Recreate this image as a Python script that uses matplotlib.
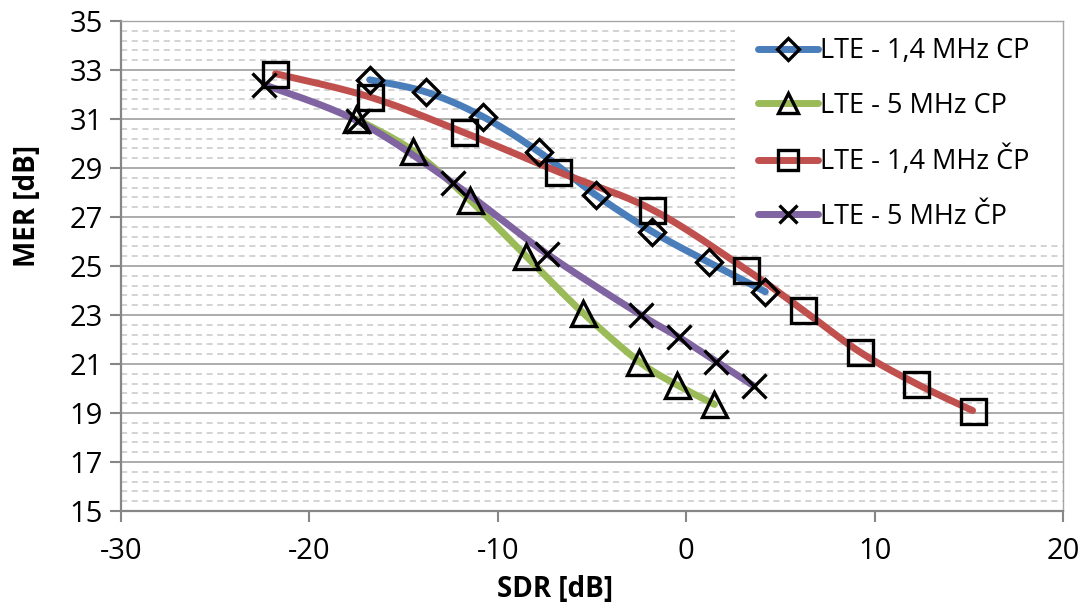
import numpy as np
import matplotlib
matplotlib.use("Agg")
import matplotlib.pyplot as plt
from matplotlib.lines import Line2D
from matplotlib.patches import Rectangle

# ---- data ----
x_14_cp = [-16.8, -13.8, -10.8, -7.8, -4.8, -1.8, 1.2, 4.2]
y_14_cp = [32.6, 32.1, 31.1, 29.65, 27.9, 26.4, 25.15, 23.95]

x_5_cp = [-17.5, -14.5, -11.5, -8.5, -5.5, -2.5, -0.5, 1.5]
y_5_cp = [31.0, 29.7, 27.7, 25.4, 23.1, 21.1, 20.15, 19.35]

x_14_ccp = [-21.8, -16.8, -11.8, -6.8, -1.8, 3.2, 6.2, 9.2, 12.2, 15.2]
y_14_ccp = [32.85, 31.9, 30.45, 28.85, 27.3, 24.85, 23.2, 21.5, 20.2, 19.1]

x_5_ccp = [-22.4, -17.4, -12.4, -7.4, -2.4, -0.4, 1.6, 3.6]
y_5_ccp = [32.4, 30.9, 28.4, 25.5, 23.0, 22.1, 21.1, 20.1]

labels = ["LTE - 1,4 MHz CP", "LTE - 5 MHz CP", "LTE - 1,4 MHz ČP", "LTE - 5 MHz ČP"]
colors = ["#4A7EBB", "#9BBB59", "#C0504D", "#8064A2"]
markers = ["D", "^", "s", "x"]
msizes = [13.5, 18, 18, 17]

x_ticks = [-30, -20, -10, 0, 10, 20]
y_ticks = [15, 17, 19, 21, 23, 25, 27, 29, 31, 33, 35]


def smooth(xs, ys, n=30):
    """Excel-style smoothed line (cubic Bezier with Catmull-Rom control points)."""
    P = np.column_stack([xs, ys]).astype(float)
    m = len(P)
    out = []
    for i in range(m - 1):
        p0 = P[i - 1] if i > 0 else P[i]
        p1 = P[i]
        p2 = P[i + 1]
        p3 = P[i + 2] if i + 2 < m else P[i + 1]
        c1 = p1 + (p2 - p0) / 6.0
        c2 = p2 - (p3 - p1) / 6.0
        t = np.linspace(0, 1, n)[:, None]
        seg = ((1 - t) ** 3) * p1 + 3 * ((1 - t) ** 2) * t * c1 + 3 * (1 - t) * t ** 2 * c2 + t ** 3 * p2
        out.append(seg if i == 0 else seg[1:])
    arr = np.vstack(out)
    return arr[:, 0], arr[:, 1]


plt.rcParams['font.family'] = ['Open Sans', 'DejaVu Sans']
plt.rcParams['axes.unicode_minus'] = False

FS_TICK = 21
FS_LEG = 19.5
FS_LAB = 20
LW = 5.0

fig = plt.figure(figsize=(10.88, 6.07), dpi=100)
ax = fig.add_axes([121 / 1088, 1 - 511 / 607, (1063 - 121) / 1088, (511 - 21) / 607])

series = [(x_14_cp, y_14_cp), (x_5_cp, y_5_cp), (x_14_ccp, y_14_ccp), (x_5_ccp, y_5_ccp)]
for k, (xs, ys) in enumerate(series):
    sx, sy = smooth(xs, ys)
    ax.plot(sx, sy, color=colors[k], lw=LW, solid_capstyle='round', zorder=3 + k * 0.1)
for k, (xs, ys) in enumerate(series):
    ax.plot(xs, ys, ls='none', marker=markers[k], ms=msizes[k], mfc='none', mec='black',
            mew=2.4, zorder=4)

ax.set_xlim(-30, 20)
ax.set_ylim(15, 35)
ax.set_xticks(x_ticks)
ax.set_yticks(y_ticks)
ax.set_yticks(np.arange(15, 35.01, 0.4), minor=True)
ax.tick_params(axis='y', which='minor', length=0)
ax.tick_params(axis='both', which='major', length=8, width=1.5, color='#868686',
               labelsize=FS_TICK, pad=5)
ax.tick_params(axis='x', which='major', pad=11)
ax.grid(axis='y', which='major', color='#A6A6A6', lw=1.3)
ax.grid(axis='y', which='minor', color='#C8C8C8', lw=1.1, ls=(0, (4, 3)))
ax.set_axisbelow(True)
for s in ['left', 'bottom']:
    ax.spines[s].set_color('#868686')
    ax.spines[s].set_linewidth(1.6)
for s in ['top', 'right']:
    ax.spines[s].set_color('#A6A6A6')
    ax.spines[s].set_linewidth(1.0)

ax.set_xlabel("SDR [dB]", fontsize=FS_LAB, fontweight='bold')
ax.set_ylabel("MER [dB]", fontsize=FS_LAB, fontweight='bold')
ax.xaxis.set_label_coords((555 - 121) / 942, (511 - 590) / 490)
ax.xaxis.label.set_va('center')
ax.yaxis.set_label_coords((28 - 121) / 942, (511 - 206) / 490)
ax.yaxis.label.set_va('center')

# white legend background (covers gridlines)
ax.add_patch(Rectangle(((735 - 121) / 942, (511 - 238) / 490), 1 - (735 - 121) / 942,
                       1 - (511 - 238) / 490, transform=ax.transAxes, facecolor='white',
                       edgecolor='none', zorder=2.5))

handles = [Line2D([0], [0], color=colors[k], lw=LW, marker=markers[k], ms=msizes[k] * 0.8,
                  mfc='none', mec='black', mew=2.4, solid_capstyle='round')
           for k in range(4)]
leg = ax.legend(handles, labels, loc='upper left', bbox_to_anchor=(0.659, 1.0),
                fontsize=FS_LEG, frameon=False, handlelength=2.2,
                handletextpad=0.1, labelspacing=0.97, borderpad=0.6, borderaxespad=0.0)
leg.set_zorder(5)

fig.savefig("out.png", dpi=100)
